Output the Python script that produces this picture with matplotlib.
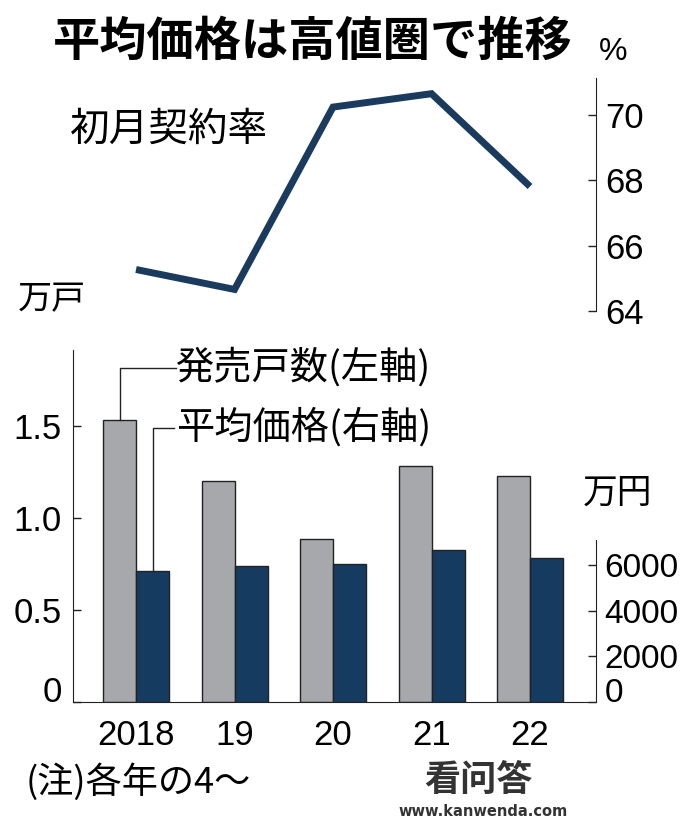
import numpy as np
import matplotlib.pyplot as plt

plt.rcParams['font.family'] = ['Liberation Sans', 'Noto Sans CJK JP', 'DejaVu Sans']

# data
years = ['2018', '19', '20', '21', '22']
contract_rate = [65.27, 64.66, 70.24, 70.65, 67.81]   # 初月契約率 (%)
units = [1.535, 1.20, 0.885, 1.285, 1.23]             # 発売戸数 (万戸)
price = [5740, 5970, 6030, 6640, 6290]                # 平均価格 (万円)

grey = '#a7a8ac'
navy = '#163b61'
ink = '#222222'
cjk = ['Noto Sans CJK JP', 'DejaVu Sans']

fig = plt.figure(figsize=(6.96, 8.21), dpi=100)

def fx(px):
    return px / 696

def fy(py):
    return 1 - py / 821

x = np.arange(len(years))
xlim = (-0.64, 4.67)
w = 0.335

# ---- top panel : contract rate line
ax_t = fig.add_axes([fx(73), fy(311), fx(596) - fx(73), fy(78) - fy(311)])
ax_t.plot(x, contract_rate, color='#1a3a5e', lw=5, solid_joinstyle='miter',
          solid_capstyle='butt', clip_on=False)
ax_t.set_xlim(xlim)
ax_t.set_ylim(64, 71.13)
for s in ['left', 'top', 'bottom']:
    ax_t.spines[s].set_visible(False)
ax_t.spines['right'].set_color(ink)
ax_t.yaxis.tick_right()
ax_t.set_yticks([64, 66, 68, 70])
ax_t.tick_params(axis='y', direction='in', length=6, width=1, color=ink,
                 labelsize=25, pad=7)
ax_t.set_xticks([])

# ---- bottom panel : bars
ax = fig.add_axes([fx(73), fy(702), fx(596) - fx(73), fy(350) - fy(702)])
ax2 = ax.twinx()
ax.bar(x - w / 2, units, width=w, color=grey, edgecolor=ink, linewidth=1)
ax2.bar(x + w / 2, price, width=w, color=navy, edgecolor=ink, linewidth=1)
ax.set_xlim(xlim)
ax.set_ylim(0, 1.913)
ax2.set_ylim(0, 15416)

for a in (ax, ax2):
    a.spines['top'].set_visible(False)
ax.spines['right'].set_visible(False)
ax2.spines['left'].set_visible(False)
ax2.spines['bottom'].set_visible(False)
ax2.spines['right'].set_bounds(0, 7100)
for s in ['left', 'bottom']:
    ax.spines[s].set_color(ink)
ax2.spines['right'].set_color(ink)

ax.set_yticks([0, 0.5, 1.0, 1.5])
ax.set_yticklabels(['0', '0.5', '1.0', '1.5'])
ax.tick_params(axis='y', direction='in', length=6, width=1, color=ink,
               labelsize=25, pad=8)
ax2.set_yticks([0, 2000, 4000, 6000])
ax2.set_yticklabels(['0', '2000', '4000', '6000'])
ax2.tick_params(axis='y', direction='in', length=6, width=1, color=ink,
                labelsize=24, pad=6)
for lab in ax.get_yticklabels() + ax2.get_yticklabels():
    if lab.get_text() == '0':
        lab.set_va('baseline')
ax.set_xticks(x)
ax.set_xticklabels(years)
ax.tick_params(axis='x', length=0, labelsize=25, pad=12)

# leader lines + series labels
r = 15416 / 1.913
lx = 0.41
ax.plot([-w / 2, -w / 2, lx], [units[0], 1.815, 1.815], color=ink, lw=1, clip_on=False)
ax2.plot([w / 2, w / 2, lx - 0.02], [price[0], 1.489 * r, 1.489 * r], color=ink, lw=1, clip_on=False)
ax.text(lx, 1.815, '発売戸数(左軸)', fontsize=27.5, va='center', ha='left', family=cjk)
ax.text(lx, 1.489, '平均価格(右軸)', fontsize=27.5, va='center', ha='left', family=cjk)

# figure texts
fig.text(0.449, fy(42), '平均価格は高値圏で推移', fontsize=34, fontweight='bold',
         ha='center', va='center', family=cjk)
fig.text(fx(599), fy(52), '%', fontsize=23, ha='left', va='center')
fig.text(fx(70), fy(130), '初月契約率', fontsize=28.5, ha='left', va='center', family=cjk)
fig.text(fx(18), fy(300), '万戸', fontsize=24.5, ha='left', va='center', family=cjk)
fig.text(fx(583), fy(493), '万円', fontsize=25, ha='left', va='center', family=cjk)
fig.text(fx(26), fy(782), '(注)各年の4〜', fontsize=26, ha='left', va='center', family=cjk)

# watermark
fig.text(fx(424), fy(780), '看问答', fontsize=26, fontweight='bold', ha='left',
         va='center', color='#333333', family=['Noto Sans CJK SC'])
fig.text(fx(398), fy(811), 'www.kanwenda.com', fontsize=10.5, fontweight='bold',
         ha='left', va='center', color='#333333', family=['DejaVu Sans'])

fig.savefig('out.png', dpi=100)
